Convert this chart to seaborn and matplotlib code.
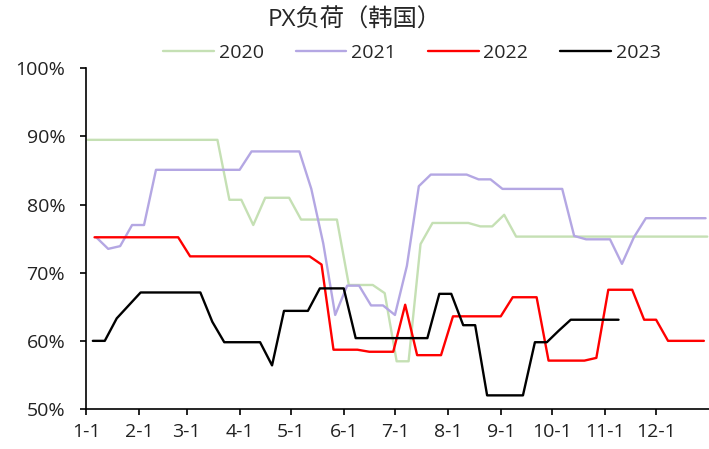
import pandas as pd
import matplotlib
matplotlib.use("Agg")
import matplotlib.pyplot as plt
import seaborn as sns

# =========================
# Dados (leitura semanal, quintas-feiras)
# =========================
y2020 = [89.5, 89.5, 89.5, 89.5, 89.5, 89.5, 89.5, 89.5, 89.5, 89.5, 89.5, 89.5,
         80.7, 80.7, 77.0, 81.0, 81.0, 81.0, 77.8, 77.8, 77.8, 77.8, 68.2, 68.2,
         68.2, 67.0, 57.0, 57.0, 74.2, 77.3, 77.3, 77.3, 77.3, 76.8, 76.8, 78.5,
         75.3, 75.3, 75.3, 75.3, 75.3, 75.3, 75.3, 75.3, 75.3, 75.3, 75.3, 75.3,
         75.3, 75.3, 75.3, 75.3, 75.3]
y2021 = [75.2, 73.5, 73.9, 77.0, 77.0, 85.1, 85.1, 85.1, 85.1, 85.1, 85.1, 85.1,
         85.1, 87.8, 87.8, 87.8, 87.8, 87.8, 82.3, 74.3, 63.8, 68.1, 68.1, 65.2,
         65.2, 63.8, 71.0, 82.7, 84.4, 84.4, 84.4, 84.4, 83.7, 83.7, 82.3, 82.3,
         82.3, 82.3, 82.3, 82.3, 75.4, 74.9, 74.9, 74.9, 71.3, 75.2, 78.0, 78.0,
         78.0, 78.0, 78.0, 78.0]
y2022 = [75.2, 75.2, 75.2, 75.2, 75.2, 75.2, 75.2, 75.2, 72.4, 72.4, 72.4, 72.4,
         72.4, 72.4, 72.4, 72.4, 72.4, 72.4, 72.4, 71.2, 58.7, 58.7, 58.7, 58.4,
         58.4, 58.4, 65.3, 57.9, 57.9, 57.9, 63.6, 63.6, 63.6, 63.6, 63.6, 66.4,
         66.4, 66.4, 57.1, 57.1, 57.1, 57.1, 57.5, 67.5, 67.5, 67.5, 63.1, 63.1,
         60.0, 60.0, 60.0, 60.0]
y2023 = [60.0, 60.0, 63.3, 65.2, 67.1, 67.1, 67.1, 67.1, 67.1, 67.1, 62.8, 59.8,
         59.8, 59.8, 59.8, 56.4, 64.4, 64.4, 64.4, 67.7, 67.7, 67.7, 60.4, 60.4,
         60.4, 60.4, 60.4, 60.4, 60.4, 66.9, 66.9, 62.3, 62.3, 52.0, 52.0, 52.0,
         52.0, 59.8, 59.8, 61.5, 63.1, 63.1, 63.1, 63.1, 63.1]

start_dates = {"2020": "2020-01-02", "2021": "2021-01-07",
               "2022": "2022-01-06", "2023": "2023-01-05"}
series = {"2020": y2020, "2021": y2021, "2022": y2022, "2023": y2023}
cores = {"2020": "#c5e0b4", "2021": "#b4a7e3", "2022": "#ff0000", "2023": "#000000"}

month_labels = ["1-1", "2-1", "3-1", "4-1", "5-1", "6-1",
                "7-1", "8-1", "9-1", "10-1", "11-1", "12-1"]

# =========================
# Montar tabela longa (dia do ano em ano base)
# =========================
frames = []
for ano, vals in series.items():
    datas = pd.date_range(start_dates[ano], periods=len(vals), freq="7D")
    base = pd.to_datetime({"year": 2023, "month": datas.month, "day": datas.day})
    dias = (base - pd.Timestamp("2023-01-01")).dt.days
    frames.append(pd.DataFrame({"dia": dias.values, "carga": vals, "ano": ano}))
df = pd.concat(frames, ignore_index=True)

# =========================
# Gráfico
# =========================
sns.set_style("white")
plt.rcParams["font.family"] = ["Open Sans", "Noto Sans CJK SC", "DejaVu Sans"]

fig = plt.figure(figsize=(7.09, 4.49), dpi=100)
ax = fig.add_axes([0.1213, 0.0891, 0.8787, 0.7588])

sns.lineplot(
    data=df, x="dia", y="carga", hue="ano",
    palette=cores, linewidth=1.7, estimator=None, sort=False, ax=ax
)

month_starts = pd.date_range("2023-01-01", periods=12, freq="MS")
ax.set_xticks([(d - pd.Timestamp("2023-01-01")).days for d in month_starts])
ax.set_xticklabels(month_labels)
ax.set_xlim(0, 365)
ax.set_ylim(50, 100)
ax.set_yticks([50, 60, 70, 80, 90, 100])
ax.set_yticklabels([f"{v}%" for v in [50, 60, 70, 80, 90, 100]])
ax.set_xlabel("")
ax.set_ylabel("")

for s in ["top", "right"]:
    ax.spines[s].set_visible(False)
for s in ["left", "bottom"]:
    ax.spines[s].set_color("black")
    ax.spines[s].set_linewidth(1.2)

ax.tick_params(axis="both", direction="out", length=4, width=1.2,
               colors="black", labelsize=14, labelcolor="#222222")
ax.tick_params(axis="y", pad=11)
ax.tick_params(axis="x", pad=6)
ax.tick_params(left=True, bottom=True)

handles, labels = ax.get_legend_handles_labels()
ax.legend(
    handles, labels, ncol=4, frameon=False, fontsize=14,
    loc="center", bbox_to_anchor=(0.581, 0.882), bbox_transform=fig.transFigure,
    handlelength=2.6, handletextpad=0.25, columnspacing=1.65
)

fig.suptitle("PX负荷（韩国）", fontsize=17.5, y=0.955, va="center")

fig.savefig("out.png", dpi=100)
